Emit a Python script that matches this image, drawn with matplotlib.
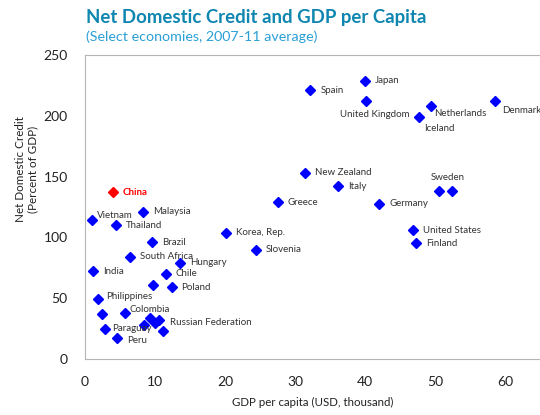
import matplotlib.pyplot as plt

plt.rcParams['font.family'] = ['Lato', 'DejaVu Sans']

# economies (empty name = unlabeled point)
names = ['China', 'Vietnam', 'Malaysia', 'Thailand', 'Brazil', 'Korea, Rep.', 'Slovenia',
         'South Africa', 'Hungary', 'India', 'Chile', '', 'Poland', 'Philippines', '',
         'Colombia', '', 'Russian Federation', '', '', 'Paraguay', '', 'Peru',
         'Japan', 'Spain', 'United Kingdom', 'Netherlands', 'Denmark', 'Iceland',
         'New Zealand', 'Italy', 'Greece', 'Germany', 'Sweden', '', 'United States', 'Finland']
gdp_pc = [4.0, 1.1, 8.3, 4.5, 9.6, 20.1, 24.4,
          6.5, 13.6, 1.2, 11.6, 9.7, 12.4, 1.9, 2.5,
          5.7, 9.4, 10.6, 10.1, 8.5, 2.9, 11.2, 4.7,
          40.0, 32.2, 40.1, 49.3, 58.5, 47.6,
          31.4, 36.1, 27.5, 42.0, 50.5, 52.3, 46.8, 47.3]
credit = [137, 114, 121, 110, 96, 104, 90,
          84, 79, 72, 70, 61, 59, 49, 37,
          38, 34, 32, 30, 28, 25, 23, 17.5,
          229, 221, 212, 208, 212, 199,
          153, 142, 129, 127.5, 138, 138, 106, 95]

# label offsets in pixels (dx, dy, ha)
offsets = {
    'China': (10, 0, 'left'), 'Vietnam': (5, 5, 'left'), 'Philippines': (8, 3, 'left'),
    'Colombia': (5, 3, 'left'), 'Paraguay': (7, 0, 'left'), 'Peru': (10, -3, 'left'),
    'Russian Federation': (11, -2, 'left'),
    'United Kingdom': (9, -13, 'center'), 'Netherlands': (4, -7, 'left'),
    'Denmark': (7, -9, 'left'), 'Iceland': (6, -11, 'left'), 'Sweden': (9, 14, 'center'),
}

fig = plt.figure(figsize=(5.4, 4.15), dpi=100)
ax = fig.add_axes([84.5 / 540, 56 / 415, 1 - 84.5 / 540, 304 / 415])

for n, x, y in zip(names, gdp_pc, credit):
    col = 'red' if n == 'China' else 'blue'
    ax.plot(x, y, marker='D', ms=4.6, color=col, linestyle='none')
    if n:
        dx, dy, ha = offsets.get(n, (10, 0, 'left'))
        ax.annotate(n, (x, y), xytext=(dx, dy), textcoords='offset pixels',
                    ha=ha, va='center', fontsize=7, color='red' if n == 'China' else '#333333',
                    fontweight='bold' if n == 'China' else 'normal')

ax.set_xlim(0, 64.9)
ax.set_ylim(0, 250)
ax.set_xticks(range(0, 70, 10))
ax.set_yticks(range(0, 300, 50))
ax.tick_params(length=0, labelsize=10, pad=12, colors='#222222')
for s in ['left', 'bottom', 'top']:
    ax.spines[s].set_color('#b5b5b5')
ax.spines['right'].set_visible(False)

ax.set_xlabel('GDP per capita (USD, thousand)', fontsize=8.3, color='#222222', labelpad=7)
fig.text(27 / 540, 1 - 169 / 415, 'Net Domestic Credit\n(Percent of GDP)', rotation=90,
         ha='center', va='center', fontsize=8.4, color='#222222', multialignment='center',
         linespacing=1.15)

fig.text(86 / 540, 1 - 23 / 415, 'Net Domestic Credit and GDP per Capita',
         fontsize=13.4, fontweight='bold', color='#0e86b0', va='baseline')
fig.text(86 / 540, 1 - 41 / 415, '(Select economies, 2007-11 average)',
         fontsize=10.3, color='#2a9fd6', va='baseline')

fig.savefig('out.png', dpi=100)
